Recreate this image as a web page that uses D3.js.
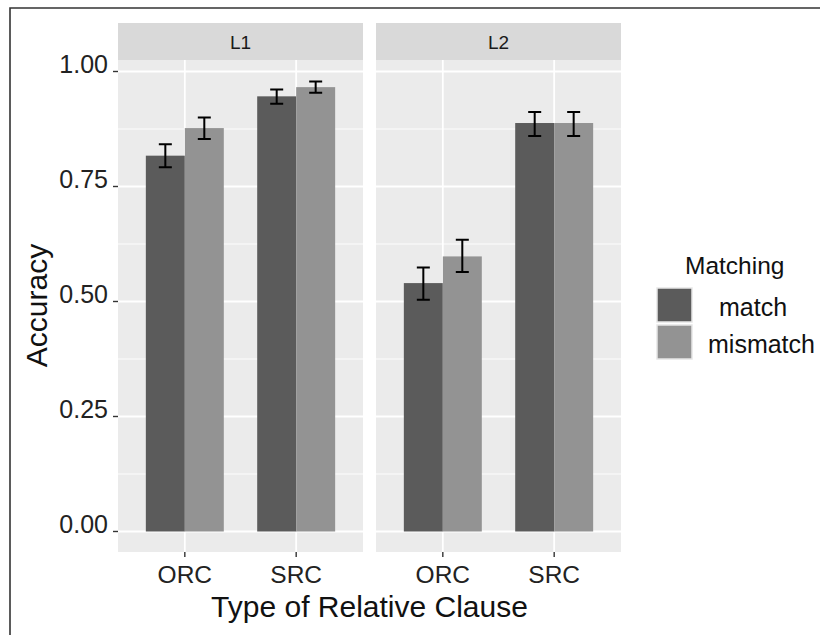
<!DOCTYPE html>
<html><head><meta charset="utf-8">
<script src="https://cdn.jsdelivr.net/npm/d3@7"></script>
<style>body{margin:0;background:#fff}svg{display:block;font-family:"Liberation Sans",Arial,sans-serif}</style>
</head><body>
<script>
const panels = ["L1","L2"];
const categories = ["ORC","SRC"];
const groups = ["match","mismatch"];
// values [panel][category][group]
const accuracy = {
  L1: {ORC:[0.817,0.877], SRC:[0.946,0.966]},
  L2: {ORC:[0.540,0.598], SRC:[0.888,0.888]}
};
const errLow = {
  L1: {ORC:[0.792,0.853], SRC:[0.930,0.954]},
  L2: {ORC:[0.504,0.564], SRC:[0.860,0.860]}
};
const errHigh = {
  L1: {ORC:[0.842,0.900], SRC:[0.961,0.978]},
  L2: {ORC:[0.574,0.634], SRC:[0.912,0.912]}
};
const yTicks = [0,0.25,0.5,0.75,1.0];
const yMinor = [0.125,0.375,0.625,0.875];
const fills = ["#5b5b5b","#939393"];

const W=820,H=635;
const svg=d3.select("body").append("svg").attr("width",W).attr("height",H);
// outer frame
svg.append("path").attr("d","M10,635 L10,8 L820,8").attr("fill","none").attr("stroke","#333").attr("stroke-width",1.6);

const panelX = d3.scaleOrdinal().domain(panels).range([[118,363],[376,621]]);
const stripTop=23, plotTop=60, plotBottom=552;
const y=d3.scaleLinear().domain([-0.0446,1.025]).range([plotBottom,plotTop]);

panels.forEach(p=>{
  const [x0,x1]=panelX(p);
  const g=svg.append("g");
  g.append("rect").attr("x",x0).attr("y",stripTop).attr("width",x1-x0).attr("height",plotTop-stripTop).attr("fill","#d9d9d9");
  g.append("text").attr("x",(x0+x1)/2).attr("y",49).attr("text-anchor","middle").attr("font-size",19).attr("fill","#1a1a1a").text(p);
  g.append("rect").attr("x",x0).attr("y",plotTop).attr("width",x1-x0).attr("height",plotBottom-plotTop).attr("fill","#ebebeb");
  const x=d3.scalePoint().domain(categories).range([x0,x1]).padding(0.6);
  const step=x.step();
  yMinor.forEach(v=>g.append("line").attr("x1",x0).attr("x2",x1).attr("y1",y(v)).attr("y2",y(v)).attr("stroke","#fff").attr("stroke-width",0.9));
  yTicks.forEach(v=>g.append("line").attr("x1",x0).attr("x2",x1).attr("y1",y(v)).attr("y2",y(v)).attr("stroke","#fff").attr("stroke-width",1.8));
  categories.forEach(c=>g.append("line").attr("x1",x(c)).attr("x2",x(c)).attr("y1",plotTop).attr("y2",plotBottom).attr("stroke","#fff").attr("stroke-width",1.8));
  const bw=0.35*step;
  const sub=d3.scaleBand().domain(groups).range([-bw,bw]);
  categories.forEach(c=>{
    groups.forEach((gr,i)=>{
      const v=accuracy[p][c][i];
      const bx=x(c)+sub(gr);
      g.append("rect").attr("x",bx).attr("y",y(v)).attr("width",sub.bandwidth()).attr("height",y(0)-y(v)).attr("fill",fills[i]);
      const cx=bx+sub.bandwidth()/2, cw=6.5;
      const lo=y(errLow[p][c][i]), hi=y(errHigh[p][c][i]);
      g.append("path").attr("d",`M${cx-cw},${hi}H${cx+cw}M${cx},${hi}V${lo}M${cx-cw},${lo}H${cx+cw}`).attr("stroke","#000").attr("stroke-width",2).attr("fill","none");
    });
    g.append("line").attr("x1",x(c)).attr("x2",x(c)).attr("y1",plotBottom).attr("y2",plotBottom+5).attr("stroke","#333").attr("stroke-width",1.4);
    g.append("text").attr("x",x(c)).attr("y",583).attr("text-anchor","middle").attr("font-size",24.5).attr("fill","#222").text(c);
  });
});
// y axis
const ya=svg.append("g");
yTicks.forEach(v=>{
  ya.append("line").attr("x1",113).attr("x2",118).attr("y1",y(v)).attr("y2",y(v)).attr("stroke","#333").attr("stroke-width",1.4);
  ya.append("text").attr("x",108).attr("y",y(v)+2).attr("text-anchor","end").attr("font-size",25).attr("fill","#222").text(d3.format(".2f")(v));
});
svg.append("text").attr("transform",`translate(47,${(y(0)+y(1))/2+4}) rotate(-90)`).attr("text-anchor","middle").attr("font-size",30).attr("fill","#111").text("Accuracy");
svg.append("text").attr("x",(118+621)/2).attr("y",617).attr("text-anchor","middle").attr("font-size",30).attr("fill","#111").text("Type of Relative Clause");

// legend
const lg=svg.append("g");
lg.append("text").attr("x",685).attr("y",274).attr("font-size",24.5).attr("fill","#111").text("Matching");
const labelX=[719,708];
groups.forEach((gr,i)=>{
  const ky=288+i*37;
  lg.append("rect").attr("x",657).attr("y",ky).attr("width",35).attr("height",34).attr("fill",fills[i]).attr("stroke","#e6e6e6").attr("stroke-width",1.5);
  lg.append("text").attr("x",labelX[i]).attr("y",ky+28).attr("font-size",25).attr("fill","#111").text(gr);
});
</script>
</body></html>
